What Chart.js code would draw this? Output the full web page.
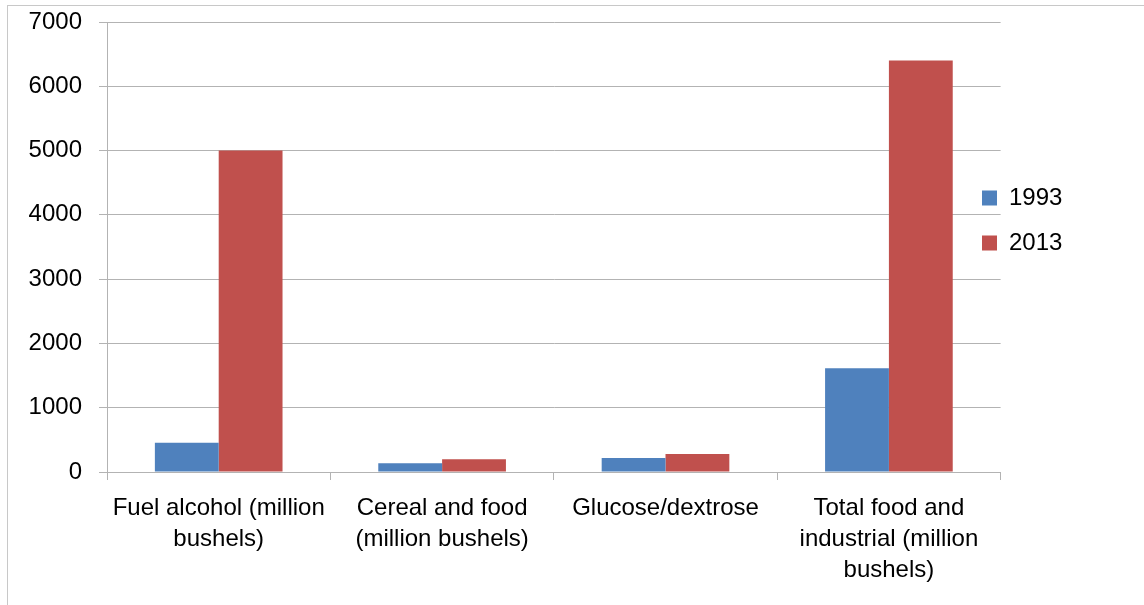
<!DOCTYPE html>
<html>
<head>
<meta charset="utf-8">
<script src="https://cdn.jsdelivr.net/npm/chart.js@4.4.1/dist/chart.umd.min.js"></script>
<style>
  html, body { margin: 0; padding: 0; background: #fff; overflow: hidden; }
  #frame { position: absolute; left: 7px; top: 5px; width: 1200px; height: 700px; border: 1px solid #c8c8c8; }
  #wrap { position: absolute; left: 0; top: 0; width: 1144px; height: 605px; }
</style>
</head>
<body>
<div id="frame"></div>
<div id="wrap"><canvas id="chart"></canvas></div>
<script>
// chart data
const categories = [
  ["Fuel alcohol (million", "bushels)"],
  ["Cereal and food", "(million bushels)"],
  ["Glucose/dextrose"],
  ["Total food and", "industrial (million", "bushels)"]
];
const seriesNames = ["1993", "2013"];
const values1993 = [455, 135, 218, 1613];
const values2013 = [5000, 197, 280, 6400];
const yTicks = [0, 1000, 2000, 3000, 4000, 5000, 6000, 7000];

const FONT = "'Liberation Sans', Arial, sans-serif";
const gridColor = "#b3b3b3";

// move the legend to where Excel put it
const legendPlacer = {
  id: "legendPlacer",
  afterLayout(chart) {
    const l = chart.legend;
    const pad = l.options.labels.padding;
    const dx = 982 - pad - l.left;
    const dy = (198 - 12 - pad) - l.top;
    l.left += dx; l.right += dx;
    l.top += dy; l.bottom += dy;
  }
};

new Chart(document.getElementById("chart"), {
  type: "bar",
  data: {
    labels: categories,
    datasets: [
      { label: seriesNames[0], data: values1993, backgroundColor: "#4f81bd" },
      { label: seriesNames[1], data: values2013, backgroundColor: "#c0504d" }
    ]
  },
  options: {
    responsive: true,
    maintainAspectRatio: false,
    animation: false,
    layout: { padding: { left: 0, top: 22, right: 32, bottom: 0 } },
    datasets: { bar: { categoryPercentage: 1 / 1.75, barPercentage: 1 } },
    scales: {
      x: {
        grid: { drawOnChartArea: false, drawTicks: true, tickLength: 8, color: gridColor, offset: true },
        border: { color: gridColor },
        ticks: { color: "#000", font: { family: FONT, size: 24, lineHeight: 1.29 }, padding: 13, maxRotation: 0, autoSkip: false },
        afterFit(s) { s.height = 133; }
      },
      y: {
        min: 0, max: 7000,
        afterBuildTicks(s) { s.ticks = yTicks.map(v => ({ value: v })); },
        grid: { color: gridColor, tickLength: 8 },
        border: { color: gridColor },
        ticks: { color: "#000", font: { family: FONT, size: 24 }, padding: 17, callback: v => String(v) },
        afterFit(s) { s.width = 107; s.paddingTop = 0; s.paddingBottom = 0; }
      }
    },
    plugins: {
      legend: {
        position: "right",
        fullSize: false,
        align: "start",
        labels: {
          color: "#000",
          font: { family: FONT, size: 24 },
          boxWidth: 15, boxHeight: 15,
          padding: 21
        }
      },
      tooltip: { enabled: false }
    }
  },
  plugins: [legendPlacer]
});
</script>
</body>
</html>
